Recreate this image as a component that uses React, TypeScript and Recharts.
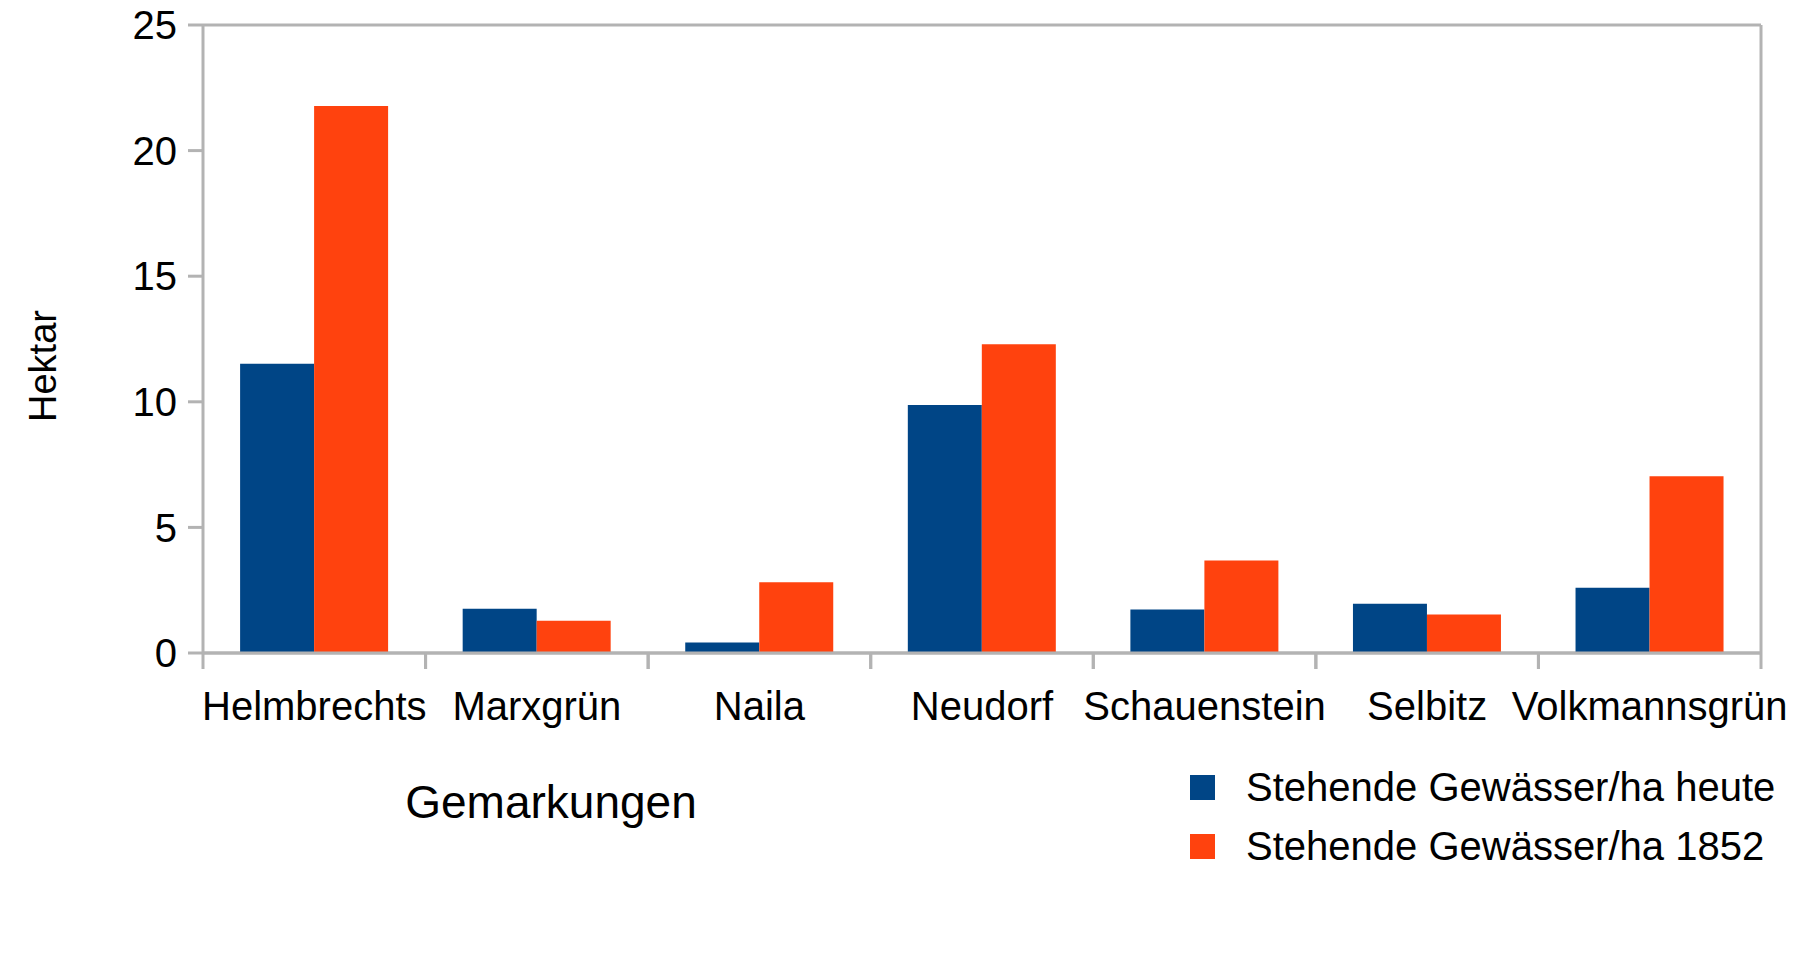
import React from 'react';
import {
  BarChart, Bar, XAxis, YAxis, CartesianGrid,
} from 'recharts';

const CATEGORIES = ['Helmbrechts', 'Marxgrün', 'Naila', 'Neudorf', 'Schauenstein', 'Selbitz', 'Volkmannsgrün'];
const HEUTE = [11.51, 1.76, 0.42, 9.87, 1.73, 1.96, 2.6];
const ANNO_1852 = [21.78, 1.28, 2.82, 12.29, 3.68, 1.53, 7.04];
const Y_TICKS = [0, 5, 10, 15, 20, 25];

const SERIES = [
  { key: 'heute', label: 'Stehende Gewässer/ha heute', color: '#004586' },
  { key: 'alt', label: 'Stehende Gewässer/ha 1852', color: '#ff420e' },
];

const FONT = '"Liberation Sans", Arial, sans-serif';
const GRID = '#b3b3b3';

const data = CATEGORIES.map((name, i) => ({
  name,
  heute: HEUTE[i],
  alt: ANNO_1852[i],
}));

// category label plus the boundary tick marks either side of it
const CategoryTick = (props: any) => {
  const { x, y, payload } = props;
  const half = payload?.offset ?? 0;
  return (
    <g>
      <line x1={x - half} x2={x - half} y1={y} y2={y + 16} stroke={GRID} strokeWidth={3} />
      <line x1={x + half} x2={x + half} y1={y} y2={y + 16} stroke={GRID} strokeWidth={3} />
      <text x={x} y={y + 67} textAnchor="middle" fill="#000" fontSize={40} fontFamily={FONT}>
        {payload.value}
      </text>
    </g>
  );
};

export default function App() {
  return (
    <div style={{ position: 'absolute', left: 0, top: 0, width: 1793, height: 958, background: '#fff' }}>
      <BarChart
        width={1793}
        height={958}
        data={data}
        margin={{ top: 25, right: 31, left: 0, bottom: 205 }}
        barCategoryGap="16.67%"
        barGap={0}
      >
        <CartesianGrid vertical={false} stroke={GRID} strokeWidth={3} />
        <XAxis
          dataKey="name"
          height={100}
          interval={0}
          tickSize={0}
          tickMargin={0}
          tickLine={false}
          axisLine={{ stroke: GRID, strokeWidth: 3 }}
          tick={<CategoryTick />}
        />
        <YAxis
          yAxisId="left"
          width={203}
          domain={[0, 25]}
          ticks={Y_TICKS}
          interval={0}
          tickSize={15}
          tickMargin={11}
          tickLine={{ stroke: GRID, strokeWidth: 3 }}
          axisLine={{ stroke: GRID, strokeWidth: 3 }}
          tick={{ fill: '#000', fontSize: 40, fontFamily: FONT }}
          label={{
            content: () => (
              <text
                x={43}
                y={366}
                transform="rotate(-90 43 366)"
                textAnchor="middle"
                dominantBaseline="central"
                fontSize={38}
                fontFamily={FONT}
                fill="#000"
              >
                Hektar
              </text>
            ),
          }}
        />
        <YAxis
          yAxisId="right"
          orientation="right"
          width={1}
          domain={[0, 25]}
          ticks={Y_TICKS}
          tick={false}
          tickLine={false}
          axisLine={{ stroke: GRID, strokeWidth: 3 }}
        />
        {SERIES.map(s => (
          <Bar key={s.key} yAxisId="left" dataKey={s.key} name={s.label} fill={s.color} isAnimationActive={false} />
        ))}
        <text x={551} y={802} textAnchor="middle" dominantBaseline="central" fontSize={46} fontFamily={FONT} fill="#000">
          Gemarkungen
        </text>
      </BarChart>
      <div style={{ position: 'absolute', left: 1190, top: 758, fontFamily: FONT, fontSize: 40, color: '#000' }}>
        {SERIES.map(s => (
          <div key={s.key} style={{ display: 'flex', alignItems: 'center', height: 59 }}>
            <span style={{ width: 25, height: 25, background: s.color, display: 'inline-block', marginRight: 31 }} />
            <span style={{ whiteSpace: 'nowrap' }}>{s.label}</span>
          </div>
        ))}
      </div>
    </div>
  );
}
